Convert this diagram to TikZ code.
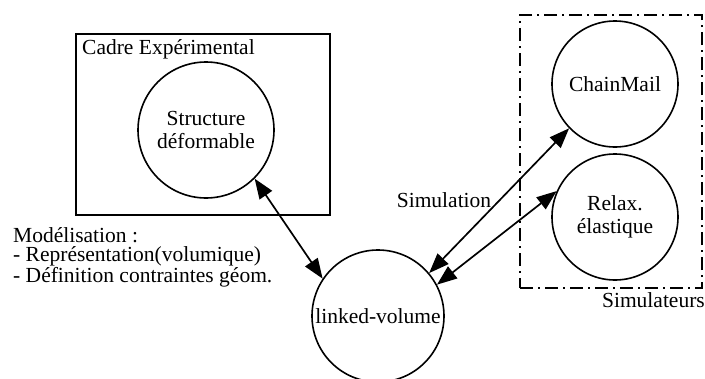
\documentclass[tikz,border=0pt]{standalone}
\usepackage{fontspec}
\setmainfont{Liberation Serif}
\usetikzlibrary{arrows.meta}
\begin{document}
\begin{tikzpicture}[x=1pt,y=-1pt,
  every node/.style={font=\fontsize{21.5}{22.5}\selectfont, inner sep=0pt},
  circ/.style={draw, circle, line width=1.6pt, align=center},
  frame/.style={draw, line width=1.7pt, rectangle},
  simframe/.style={draw, line width=1.7pt, rectangle, dash pattern=on 13pt off 5pt on 2pt off 5pt},
  tipA/.tip={Triangle[length=20pt,width=15pt]},
  link/.style={line width=1.7pt, tipA-tipA},
  lbl/.style={align=left}
]
\useasboundingbox (0,0) rectangle (705,378);
\node[frame, minimum width=254pt, minimum height=181pt] (cadre) at (203,124.5) {};
\node[anchor=west] (cadrelbl) at (82,49) {Cadre Expérimental};
\node[circ, minimum size=136pt] (sd) at (206,130) {Structure\\déformable};
\node[simframe, minimum width=182pt, minimum height=273pt] (simbox) at (611,151.5) {};
\node[anchor=east] (simlbl) at (705,300) {Simulateurs};
\node[circ, minimum size=126pt] (cm) at (615,84) {ChainMail};
\node[circ, minimum size=126pt] (rx) at (615,217) {Relax.\\élastique};
\node[circ, minimum size=132pt] (lv) at (378,316) {linked-volume};
\node[lbl, anchor=north west, font=\fontsize{21.5}{19.5}\selectfont] (model) at (13,227) {Modélisation :\\- Représentation(volumique)\\- Définition contraintes géom.};
\node (simul) at (444,200) {Simulation};
\draw[link] (sd.-45) -- (lv.146);
\draw[link] (lv.40) -- (cm.224);
\draw[link] (lv.28) -- (rx.156);
\end{tikzpicture}
\end{document}
